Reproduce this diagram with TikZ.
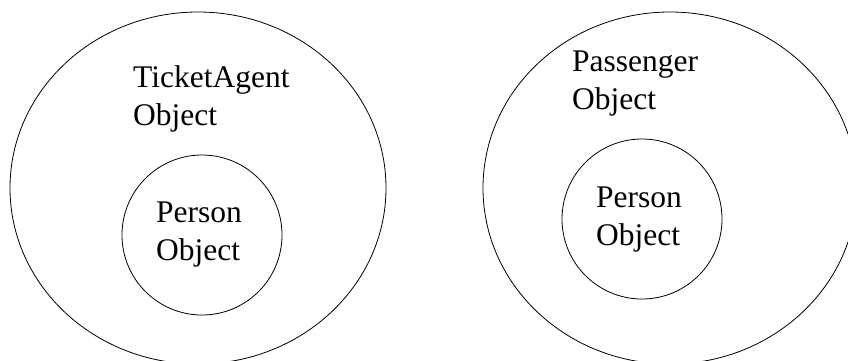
\documentclass[tikz,border=0pt]{standalone}
\usepackage{fontspec}
\setmainfont{Liberation Serif}
\usetikzlibrary{shapes.geometric}
\begin{document}
\begin{tikzpicture}[x=1pt,y=-1pt,
  outer/.style={draw,ellipse,line width=0.8pt,inner sep=0pt},
  inner/.style={draw,circle,line width=0.8pt,inner sep=0pt,minimum size=160pt},
  label/.style={anchor=base west,align=left,inner sep=0pt,
    font=\fontsize{31.5}{38}\selectfont}]
  \useasboundingbox (0,0) rectangle (848,360);
  % TicketAgent object wrapping a Person object
  \node[outer,minimum width=376pt,minimum height=352pt] (agent) at (198,188) {};
  \node[inner] (agentperson) at (202,235) {};
  \node[label] (agenttext) at (133,125) {TicketAgent\\Object};
  \node[label] (agentpersontext) at (156,260) {Person\\Object};
  % Passenger object wrapping a Person object
  \node[outer,minimum width=374pt,minimum height=352pt] (passenger) at (670,188) {};
  \node[inner] (passengerperson) at (642,219) {};
  \node[label] (passengertext) at (572,109) {Passenger\\Object};
  \node[label] (passengerpersontext) at (596,245) {Person\\Object};
\end{tikzpicture}
\end{document}
